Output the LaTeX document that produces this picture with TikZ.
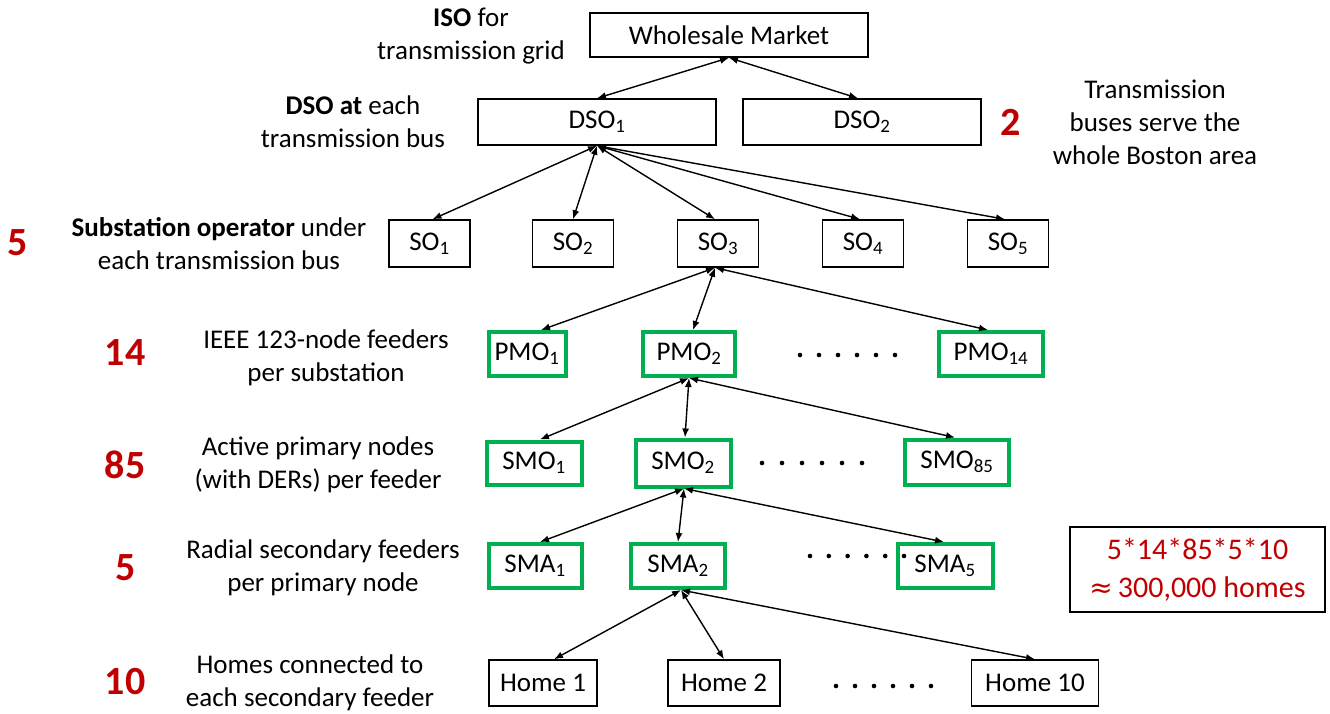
\documentclass[tikz,border=0pt]{standalone}
\usepackage{fontspec}
\setmainfont{Carlito}
\usetikzlibrary{arrows.meta}
\definecolor{dred}{HTML}{C00000}
\definecolor{grn}{HTML}{00B050}
\newcommand{\fsn}{\fontsize{27}{33}\selectfont}
\newcommand{\fsbig}{\fontsize{40}{40}\selectfont\bfseries}
\newcommand{\fsf}{\fontsize{30}{38}\selectfont}
\begin{document}
\begin{tikzpicture}[x=1pt,y=-1pt,
  bx/.style={draw=black, line width=1.5pt, inner sep=0pt, font=\fsn},
  gbx/.style={draw=grn, line width=4pt, inner sep=0pt, font=\fsn},
  lbl/.style={align=center, inner sep=0pt, font=\fsn},
  num/.style={inner sep=0pt, text=dred, font=\fsbig},
  arr/.style={{Latex[length=9pt,width=7pt]}-{Latex[length=9pt,width=7pt]}, line width=1.4pt},
  dotc/.style={fill=black, draw=none}]
\useasboundingbox (0,0) rectangle (1330,713);
% boxes
\node[bx, minimum width=278, minimum height=44] (wm) at (729,35) {Wholesale Market};
\node[bx, minimum width=238, minimum height=46] (dso1) at (597,122) {DSO\textsubscript{1}};
\node[bx, minimum width=238, minimum height=46] (dso2) at (862,122) {DSO\textsubscript{2}};
\node[bx, minimum width=81, minimum height=47] (so1) at (429.5,243.5) {SO\textsubscript{1}};
\node[bx, minimum width=81, minimum height=47] (so2) at (573,243.5) {SO\textsubscript{2}};
\node[bx, minimum width=81, minimum height=47] (so3) at (718,243.5) {SO\textsubscript{3}};
\node[bx, minimum width=81, minimum height=47] (so4) at (863,243.5) {SO\textsubscript{4}};
\node[bx, minimum width=81, minimum height=47] (so5) at (1008,243.5) {SO\textsubscript{5}};
\node[gbx, minimum width=77, minimum height=44] (pmo1) at (527,354) {PMO\textsubscript{1}};
\node[gbx, minimum width=92, minimum height=44] (pmo2) at (689,354) {PMO\textsubscript{2}};
\node[gbx, minimum width=104, minimum height=44] (pmo14) at (991,354) {PMO\textsubscript{14}};
\node[gbx, minimum width=95, minimum height=43] (smo1) at (534,463) {SMO\textsubscript{1}};
\node[gbx, minimum width=95, minimum height=47] (smo2) at (683,463) {SMO\textsubscript{2}};
\node[gbx, minimum width=104, minimum height=45] (smo85) at (957,462) {SMO\textsubscript{85}};
\node[gbx, minimum width=93, minimum height=44] (sma1) at (535,566) {SMA\textsubscript{1}};
\node[gbx, minimum width=94, minimum height=44] (sma2) at (678,566) {SMA\textsubscript{2}};
\node[gbx, minimum width=95, minimum height=44] (sma5) at (945,566) {SMA\textsubscript{5}};
\node[bx, minimum width=108, minimum height=46] (home1) at (543,683) {Home 1};
\node[bx, minimum width=112, minimum height=46] (home2) at (724,683) {Home 2};
\node[bx, minimum width=127, minimum height=46] (home10) at (1035,683) {Home 10};
\node[bx, minimum width=255, minimum height=85, align=center, text=dred, font=\fsf] (tot) at (1197.5,569.5) {5*14*85*5*10\\{\fontspec{DejaVu Sans}\fontsize{28}{38}\selectfont ≈}\,300,000 homes};
% dots
\foreach \i in {0,...,5} {
  \fill[dotc] (800+19*\i,355) circle (2.3);
  \fill[dotc] (762+20*\i,463) circle (2.3);
  \fill[dotc] (810+18.8*\i,556) circle (2.3);
  \fill[dotc] (836+19*\i,686) circle (2.3);
}
% left labels
\node[lbl] (isol) at (471,36) {\textbf{ISO} for\\transmission grid};
\node[lbl] (dsol) at (353,122) {\textbf{DSO at} each\\transmission bus};
\node[lbl] (sol) at (219,244) {\textbf{Substation operator} under\\each transmission bus};
\node[lbl] (pmol) at (326,358) {IEEE 123-node feeders\\per substation};
\node[lbl] (smol) at (318,465) {Active primary nodes\\(with DERs) per feeder};
\node[lbl] (smal) at (323,568) {Radial secondary feeders\\per primary node};
\node[lbl] (homel) at (310,683) {Homes connected to\\each secondary feeder};
\node[lbl] (dsor) at (1155,122) {Transmission\\buses serve the\\whole Boston area};
% numbers
\node[num] (n2) at (1011,122) {2};
\node[num] (n5a) at (18,243) {5};
\node[num] (n14) at (125,353) {14};
\node[num] (n85) at (125,465) {85};
\node[num] (n5b) at (126,568) {5};
\node[num] (n10) at (125,682) {10};
% connectors
\draw[arr] (wm.south) -- (dso1.north);
\draw[arr] (wm.south) -- ([xshift=-4pt]dso2.north);
\draw[arr] (dso1.south) -- ([xshift=3pt]so1.north);
\draw[arr] (dso1.south) -- (so2.north);
\draw[arr] (dso1.south) -- ([xshift=-3pt]so3.north);
\draw[arr] (dso1.south) -- ([xshift=-3pt]so4.north);
\draw[arr] (dso1.south) -- ([xshift=-3pt]so5.north);
\draw[arr] ([xshift=-3pt]so3.south) -- ([xshift=14pt]pmo1.north);
\draw[arr] ([xshift=-3pt]so3.south) -- ([xshift=4pt]pmo2.north);
\draw[arr] ([xshift=-3pt]so3.south) -- ([xshift=-3pt]pmo14.north);
\draw[arr] (pmo2.south) -- ([xshift=6pt]smo1.north);
\draw[arr] (pmo2.south) -- ([xshift=2pt]smo2.north);
\draw[arr] (pmo2.south) -- ([xshift=-2pt]smo85.north);
\draw[arr] ([xshift=1pt]smo2.south) -- ([xshift=5pt]sma1.north);
\draw[arr] ([xshift=1pt]smo2.south) -- (sma2.north);
\draw[arr] ([xshift=1pt]smo2.south) -- ([xshift=-1pt]sma5.north);
\draw[arr] ([xshift=3pt]sma2.south) -- ([xshift=11pt]home1.north);
\draw[arr] ([xshift=3pt]sma2.south) -- (home2.north);
\draw[arr] ([xshift=3pt]sma2.south) -- (home10.north);
\end{tikzpicture}
\end{document}
